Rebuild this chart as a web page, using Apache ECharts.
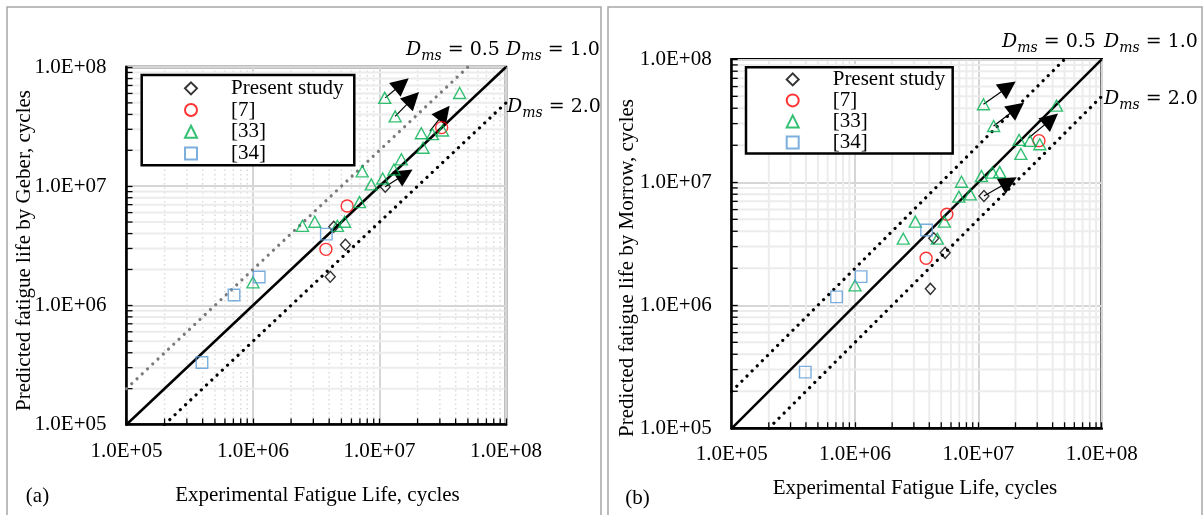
<!DOCTYPE html>
<html><head><meta charset="utf-8">
<script src="https://cdn.jsdelivr.net/npm/echarts@6/dist/echarts.min.js"></script>
<style>html,body{margin:0;padding:0;background:#fff}#c{width:1203px;height:515px}</style>
</head><body><div id="c"></div>
<script>
// ---------- data ----------
const seriesNames = ['Present study', '[7]', '[33]', '[34]'];
const tickLabels = ['1.0E+05', '1.0E+06', '1.0E+07', '1.0E+08'];
const axisMin = 1e5, axisMax = 1e8;

// Present study (diamonds)
const presentExp    = [4.08e6, 5.38e6, 4.35e6, 1.11e7];
const presentGeber  = [1.74e6, 3.23e6, 4.57e6, 9.9e6];
const presentMorrow = [1.36e6, 2.67e6, 3.51e6, 7.74e6];
// [7] (circles)
const ref7Exp    = [3.77e6, 5.55e6, 3.10e7];
const ref7Geber  = [2.95e6, 6.82e6, 3.10e7];
const ref7Morrow = [2.41e6, 5.50e6, 2.18e7];
// [33] (triangles)
const ref33Exp    = [1.0e6, 2.46e6, 3.08e6, 4.65e6, 5.3e6, 6.95e6, 7.3e6, 8.6e6, 1.06e7, 1.10e7, 1.30e7, 1.33e7, 1.49e7, 2.14e7, 2.21e7, 2.62e7, 3.15e7, 4.30e7];
const ref33Geber  = [1.56e6, 4.65e6, 5.03e6, 4.65e6, 5.03e6, 7.35e6, 1.33e7, 1.035e7, 1.16e7, 5.51e7, 1.38e7, 3.85e7, 1.68e7, 2.78e7, 2.10e7, 2.73e7, 2.93e7, 6.05e7];
const ref33Morrow = [1.45e6, 3.48e6, 4.79e6, 3.48e6, 4.79e6, 7.64e6, 1.01e7, 7.98e6, 1.125e7, 4.31e7, 1.20e7, 2.87e7, 1.21e7, 2.21e7, 1.70e7, 2.17e7, 2.04e7, 4.20e7];
// [34] (squares)
const ref34Exp    = [3.95e5, 7.08e5, 1.12e6, 3.80e6];
const ref34Geber  = [3.31e5, 1.22e6, 1.73e6, 3.96e6];
const ref34Morrow = [2.86e5, 1.17e6, 1.71e6, 4.09e6];

// Dms reference lines (experimental, predicted)
const lineD10 = [[1e5, 1e5], [1e8, 1e8]];
const lineD05 = [[1e5, 2e5], [5e7, 1e8]];
const lineD20 = [[2e5, 1e5], [1e8, 5e7]];

// run-out arrows [xFrom, yFrom, xTo, yTo]
const arrowsGeber  = [[1.11e7, 5.51e7, 1.50e7, 7.19e7], [1.33e7, 3.85e7, 1.83e7, 5.45e7], [2.50e7, 2.90e7, 3.24e7, 4.13e7], [1.11e7, 9.9e6, 1.59e7, 1.26e7]];
const arrowsMorrow = [[1.10e7, 4.31e7, 1.75e7, 5.99e7], [1.33e7, 2.87e7, 2.05e7, 4.00e7], [2.54e7, 2.28e7, 3.89e7, 3.25e7], [1.11e7, 7.74e6, 1.77e7, 1.01e7]];

const dmsValues = ['0.5', '1.0', '2.0'];
const yTitles = ['Predicted fatigue life by Geber, cycles', 'Predicted fatigue life by Morrow, cycles'];
const xTitle = 'Experimental Fatigue Life, cycles';
const panelTags = ['(a)', '(b)'];

// ---------- helpers ----------
const FONT = '"Liberation Serif", "Times New Roman", serif';
function pairs(xs, ys) { return xs.map((x, i) => [x, ys[i]]); }
function fmt(v) { return tickLabels[Math.round(Math.log10(v)) - 5]; }

const minorVals = [];
[1e5, 1e6, 1e7].forEach(d => { for (let k = 2; k <= 9; k++) minorVals.push(k * d); });

const layouts = [
  {grid: {left: 126.5, top: 67, width: 379.5, height: 357.5}, xMargin: 16.5, vDash: [1.5, 3], vColor: '#dadada', hColor: '#ececec', d05Color: '#7a7a7a'},
  {grid: {left: 731.7, top: 59.3, width: 370, height: 369}, xMargin: 15.2, vDash: null, vColor: '#ececec', hColor: '#ececec', d05Color: '#000'}
];

function minorSeries(gi, dir) {
  const L = layouts[gi];
  return {
    type: 'custom', xAxisIndex: gi, yAxisIndex: gi, silent: true, z: 1,
    data: minorVals.map(v => dir === 'v' ? [v, axisMin] : [axisMin, v]),
    renderItem: function (params, api) {
      let a, b;
      if (dir === 'v') {
        const v = api.value(0);
        a = api.coord([v, axisMin]); b = api.coord([v, axisMax]);
        return {type: 'group', children: [
          {type: 'line', shape: {x1: a[0], y1: a[1] - 1.5, x2: b[0], y2: b[1] + 1.5}, style: {stroke: L.vColor, lineWidth: L.vDash ? 1.5 : 2, lineDash: L.vDash}},
          {type: 'line', shape: {x1: a[0], y1: a[1], x2: a[0], y2: a[1] - 6}, style: {stroke: '#000', lineWidth: 1.3}}
        ]};
      } else {
        const v = api.value(1);
        a = api.coord([axisMin, v]); b = api.coord([axisMax, v]);
        return {type: 'group', children: [
          {type: 'line', shape: {x1: a[0] + 1.5, y1: a[1], x2: b[0] - 1.5, y2: b[1]}, style: {stroke: L.hColor, lineWidth: 2}},
          {type: 'line', shape: {x1: a[0], y1: a[1], x2: a[0] + 6, y2: a[1]}, style: {stroke: '#000', lineWidth: 1.3}}
        ]};
      }
    }
  };
}

function axisCfg(gi, isX) {
  return {
    type: 'log', logBase: 10, gridIndex: gi, min: axisMin, max: axisMax,
    axisLine: {show: true, onZero: false, lineStyle: {color: '#000', width: 2.5}},
    axisTick: {show: true, inside: true, length: 6, lineStyle: {color: '#000', width: 1.3}},
    axisLabel: {formatter: fmt, margin: isX ? layouts[gi].xMargin : 20, color: '#000', fontFamily: FONT, fontSize: 21},
    splitLine: {show: true, lineStyle: {color: '#d6d6d6', width: 2}},
    minorTick: {show: false}, minorSplitLine: {show: false}
  };
}

const predicted = [
  {present: presentGeber, r7: ref7Geber, r33: ref33Geber, r34: ref34Geber, arrows: arrowsGeber},
  {present: presentMorrow, r7: ref7Morrow, r33: ref33Morrow, r34: ref34Morrow, arrows: arrowsMorrow}
];

const series = [];
[0, 1].forEach(gi => {
  const P = predicted[gi], L = layouts[gi];
  series.push(minorSeries(gi, 'v'), minorSeries(gi, 'h'));
  const base = {xAxisIndex: gi, yAxisIndex: gi, silent: true, animation: false};
  series.push(Object.assign({type: 'line', data: lineD10, symbol: 'none', z: 3, lineStyle: {color: '#000', width: 2.5}}, base));
  series.push(Object.assign({type: 'line', data: lineD05, symbol: 'none', z: 3, lineStyle: {color: L.d05Color, width: 3.2, type: [0.01, 7.2], cap: 'round'}}, base));
  series.push(Object.assign({type: 'line', data: lineD20, symbol: 'none', z: 3, lineStyle: {color: '#000', width: 3.2, type: [0.01, 7.2], cap: 'round'}}, base));
  series.push(Object.assign({
    type: 'scatter', name: 'runout', data: [], z: 4,
    markLine: {silent: true, animation: false, symbol: ['none', 'triangle'], symbolSize: 18,
      lineStyle: {color: '#000', width: 1.2, type: 'solid'}, label: {show: false}, emphasis: {disabled: true},
      data: P.arrows.map(a => [{coord: [a[0], a[1]]}, {coord: [a[2], a[3]]}])}
  }, base));
  const mk = (name, xs, ys, symbol, size, color) => Object.assign({
    type: 'scatter', name, data: pairs(xs, ys), symbol, symbolSize: size, z: 5,
    itemStyle: {color: 'rgba(0,0,0,0)', borderColor: color, borderWidth: 1.4}, emphasis: {disabled: true}
  }, base);
  series.push(mk(seriesNames[0], presentExp, P.present, 'diamond', [10, 11], '#000'));
  series.push(mk(seriesNames[1], ref7Exp, P.r7, 'circle', 12, '#ff0000'));
  series.push(mk(seriesNames[2], ref33Exp, P.r33, 'triangle', [12, 11], '#00b050'));
  series.push(mk(seriesNames[3], ref34Exp, P.r34, 'rect', 11.5, '#5b9bd5'));
});

// legend: icon box 12 wide, text pushed right with padding
function legendCfg(left, top, lh, pad) {
  return {data: seriesNames, orient: 'vertical', left, top, itemWidth: 12, itemHeight: 12, itemGap: 0,
    padding: pad, borderColor: '#000', borderWidth: 2.5, backgroundColor: '#fff', selectedMode: false,
    textStyle: {fontFamily: FONT, fontSize: 21, color: '#000', lineHeight: lh, padding: [0, 0, 0, 29]}};
}

function dmsText(x, y, val) {
  return {type: 'text', x, y, silent: true, z: 10, style: {
    text: '{d|D}{s|ms}{e| = ' + val + '}', align: 'left', verticalAlign: 'middle', fill: '#000',
    rich: {
      d: {fontFamily: '"DejaVu Serif", serif', fontStyle: 'italic', fontSize: 19, fill: '#000'},
      s: {fontFamily: '"DejaVu Serif", serif', fontStyle: 'italic', fontSize: 14, padding: [12, 0, 0, 0], fill: '#000'},
      e: {fontFamily: '"DejaVu Serif", serif', fontSize: 19, fill: '#000'}
    }}};
}
function plainText(x, y, text, rot) {
  return {type: 'text', x, y, rotation: rot || 0, silent: true, z: 10,
    style: {text, font: '21px ' + FONT, fill: '#000', align: 'center', verticalAlign: 'middle'}};
}

const graphic = [
  {type: 'rect', shape: {x: 7, y: 7, width: 594, height: 540}, style: {fill: 'none', stroke: '#a6a6a6', lineWidth: 1.5}, silent: true, z: -1},
  {type: 'rect', shape: {x: 608, y: 7, width: 594, height: 540}, style: {fill: 'none', stroke: '#a6a6a6', lineWidth: 1.5}, silent: true, z: -1},
  dmsText(406, 50, dmsValues[0]), dmsText(506, 50, dmsValues[1]), dmsText(507, 107, dmsValues[2]),
  dmsText(1002, 42, dmsValues[0]), dmsText(1104, 42, dmsValues[1]), dmsText(1104, 99, dmsValues[2]),
  plainText(24, 250.5, yTitles[0], Math.PI / 2), plainText(627, 268, yTitles[1], Math.PI / 2),
  plainText(317.5, 495, xTitle), plainText(915, 488, xTitle),
  plainText(37.5, 496, panelTags[0]), plainText(637.5, 498, panelTags[1])
];

const chart = echarts.init(document.getElementById('c'), null, {renderer: 'canvas'});
chart.setOption({
  backgroundColor: '#fff', animation: false,
  grid: layouts.map(L => Object.assign({show: true, borderColor: '#000', borderWidth: 2.5, backgroundColor: 'transparent', containLabel: false}, L.grid)),
  xAxis: [axisCfg(0, true), axisCfg(1, true)],
  yAxis: [axisCfg(0, false), axisCfg(1, false)],
  legend: [legendCfg(141.7, 75, 21.7, [2.5, 10.7, 1, 42.3]), legendCfg(746, 67.3, 20.8, [1.6, 7.4, 0.5, 39.7])],
  graphic,
  series
});
</script></body></html>
